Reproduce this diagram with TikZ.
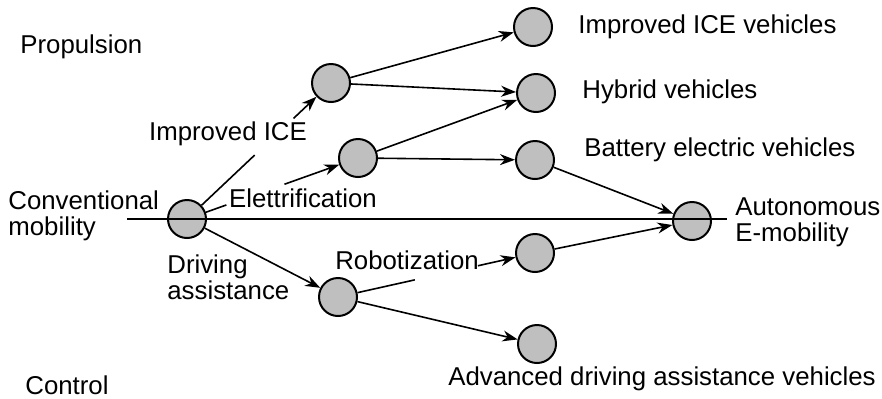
\documentclass[tikz,border=0pt]{standalone}
\usepackage{fontspec}
\setmainfont{Liberation Sans}
\usetikzlibrary{arrows.meta}
\usetikzlibrary{calc}
\tikzset {
  x=0.5pt, y=-0.5pt,
  >={Stealth[length=7.5pt, width=5.5pt]},
  % technology stage
  stage/.style = {draw, circle, fill=gray!50, line width=1pt, minimum size=19pt, inner sep=0pt},
  % plain connector
  link/.style={line width=0.8pt},
  % all texts
  txt/.style={font=\fontsize{12.9}{13}\selectfont, align=left, inner sep=1pt},
  lft/.style={txt, anchor=west},
}

\begin{document}
\begin{tikzpicture}
        \useasboundingbox (0,0) rectangle (882,398);

        % stages
        \node[stage] (conv) at (187,219) {};
        \node[stage] (ice) at (331,83) {};
        \node[stage] (elt) at (358,158) {};
        \node[stage] (drv) at (338,297) {};
        \node[stage] (icev) at (533,27) {};
        \node[stage] (hyb) at (536,93) {};
        \node[stage] (bev) at (535,160) {};
        \node[stage] (auto) at (692,221) {};
        \node[stage] (rob) at (535,253) {};
        \node[stage] (adas) at (537,344) {};

        % side texts
        \node[lft] (prop) at (18,47) {Propulsion};
        \node[lft] (ctrl) at (23,385) {Control};
        \node[lft] (convl) at (6,216) {Conventional\\mobility};
        \node[lft] (icevl) at (576,27) {Improved ICE vehicles};
        \node[lft] (hybl) at (580,92) {Hybrid vehicles};
        \node[lft] (bevl) at (582,150) {Battery electric vehicles};
        \node[lft] (autol) at (733,222) {Autonomous\\E-mobility};
        \node[txt] (adasl) at (662,379) {Advanced driving assistance vehicles};

        % path labels
        \node[txt] (icel) at (228,134) {Improved ICE};
        \node[txt] (eltl) at (303,198) {Elettrification};
        \node[txt] (robl) at (407,260) {Robotization};
        \node[lft] (drvl) at (165,277) {Driving\\assistance};

        % branches cut by their labels
        \draw[link] (conv) -- ($(conv)!0.47!(ice)$);
        \draw[link, ->] ($(conv)!0.74!(ice)$) -- (ice);
        \draw[link] (conv) -- ($(conv)!0.23!(elt)$);
        \draw[link, ->] ($(conv)!0.57!(elt)$) -- (elt);
        \draw[link] (drv) -- ($(drv)!0.39!(rob)$);
        \draw[link, ->] ($(drv)!0.71!(rob)$) -- (rob);

        \draw[link, ->] (conv) -- (drv);
        \draw[link, ->] (ice) -- (icev);
        \draw[link, ->] (ice) -- (hyb);
        \draw[link, ->] (elt) -- (hyb);
        \draw[link, ->] (elt) -- (bev);
        \draw[link, ->] (bev) -- (auto);
        \draw[link, ->] (rob) -- (auto);
        \draw[link, ->] (drv) -- (adas);

        % main line runs over both end stages
        \coordinate (mstart) at (127,219);
        \coordinate (mend) at (727,219);
        \draw[link] (mstart) -- (mend);
      \end{tikzpicture}
\end{document}
